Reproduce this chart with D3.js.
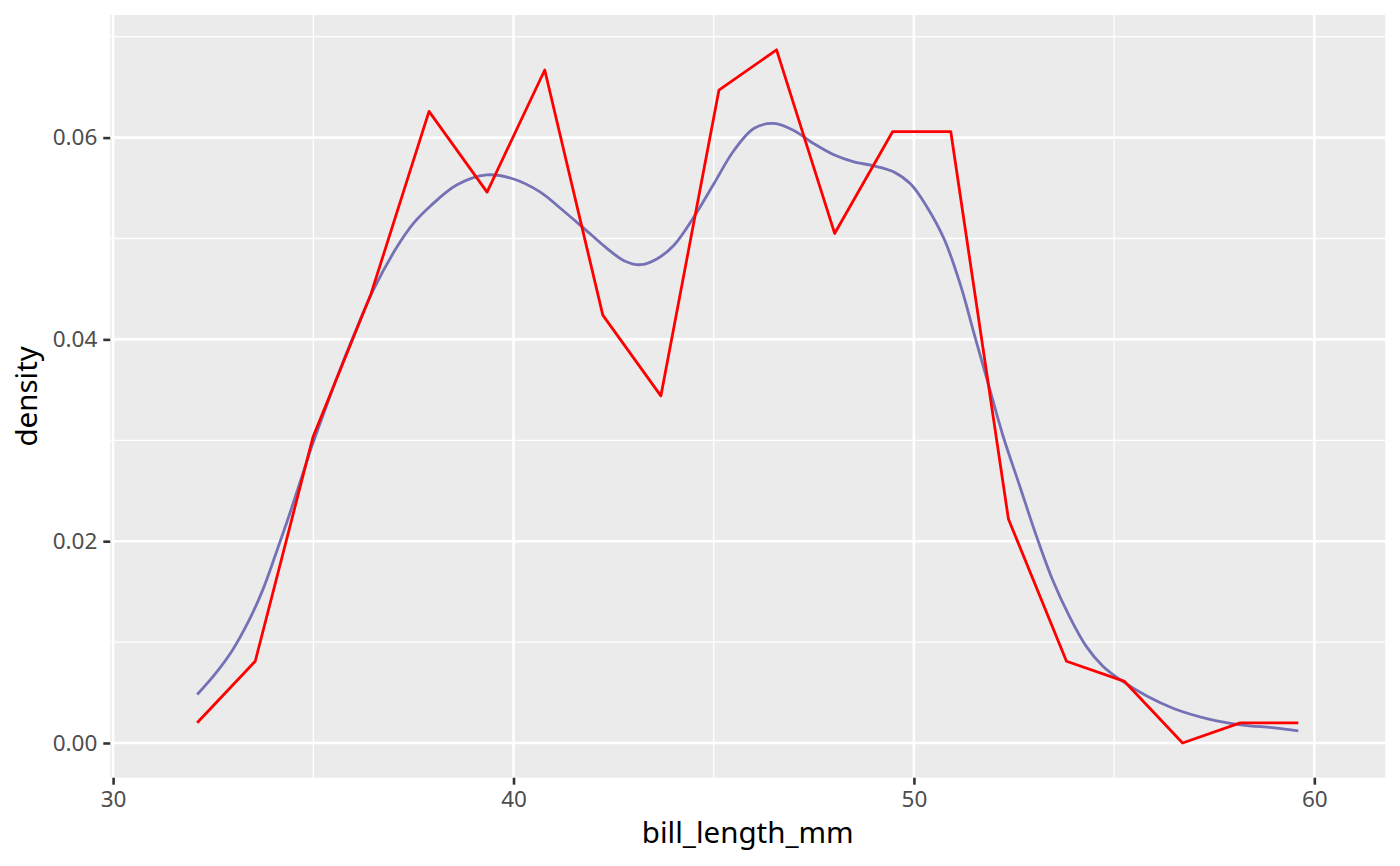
<!DOCTYPE html>
<html>
<head>
<meta charset="utf-8">
<script src="https://cdn.jsdelivr.net/npm/d3@7"></script>
<style>
  body{margin:0;background:#ffffff;}
  svg text{font-family:"Noto Sans","Open Sans",sans-serif;}
</style>
</head>
<body>
<div id="chart"></div>
<script>
// frequency polygon (bins=20), density
var binMids = [32.10, 33.55, 34.99, 36.44, 37.89, 39.34, 40.78, 42.23, 43.68, 45.13,
               46.57, 48.02, 49.47, 50.92, 52.36, 53.81, 55.26, 56.71, 58.15, 59.60];
var binDensity = [0.0020, 0.0081, 0.0303, 0.0445, 0.0626, 0.0546, 0.0667, 0.0424, 0.0344, 0.0647,
                  0.0687, 0.0505, 0.0606, 0.0606, 0.0222, 0.0081, 0.0061, 0.0000, 0.0020, 0.0020];

// kernel density curve
var kdeX = [32.10, 32.56, 32.98, 33.40, 33.73, 34.06, 34.40, 34.73, 34.98, 35.31,
            35.56, 36.00, 36.50, 37.08, 37.50, 37.92, 38.58, 39.33, 40.00, 40.67,
            41.17, 41.76, 42.34, 42.76, 43.17, 43.59, 44.00, 44.50, 45.00, 45.50,
            46.00, 46.50, 47.00, 47.50, 48.00, 48.50, 49.00, 49.50, 49.92, 50.33,
            50.76, 51.17, 51.50, 51.85, 52.22, 52.64, 53.06, 53.47, 53.89, 54.30,
            54.72, 55.14, 55.84, 56.50, 57.34, 58.17, 59.00, 59.60];
var kdeY = [0.0048, 0.0069, 0.0092, 0.0122, 0.0151, 0.0187, 0.0226, 0.0266, 0.0296, 0.0332,
            0.0359, 0.0403, 0.0449, 0.0491, 0.0515, 0.0532, 0.0553, 0.0563, 0.0559, 0.0546,
            0.0530, 0.0510, 0.0490, 0.0478, 0.0474, 0.0480, 0.0493, 0.0521, 0.0554, 0.0587,
            0.0609, 0.0614, 0.0607, 0.0594, 0.0583, 0.0576, 0.0572, 0.0566, 0.0554, 0.0531,
            0.0499, 0.0453, 0.0406, 0.0357, 0.0305, 0.0255, 0.0205, 0.0161, 0.0125, 0.0096,
            0.0076, 0.0063, 0.0046, 0.0034, 0.0024, 0.0018, 0.0015, 0.0012];

var xMajor = [30, 40, 50, 60];
var xMinor = [35, 45, 55];
var yMajor = [0, 0.02, 0.04, 0.06];
var yMinor = [0.01, 0.03, 0.05, 0.07];

var width = 1400, height = 866;
var xDomain = [29.93, 61.77], yDomain = [-0.00344, 0.07215];

var x = d3.scaleLinear().domain(xDomain).range([110.3, 1385.2]);
var y = d3.scaleLinear().domain(yDomain).range([777.7, 15]);

var svg = d3.select("#chart").append("svg").attr("width", width).attr("height", height);

//panel
svg.append("rect").attr("x", x.range()[0]).attr("y", y.range()[1])
   .attr("width", x.range()[1]-x.range()[0]).attr("height", y.range()[0]-y.range()[1])
   .attr("fill", "#EBEBEB");

var grid = svg.append("g");
grid.selectAll("line.ymin").data(yMinor).enter().append("line").classed("ymin", true)
    .attr("x1", x.range()[0]).attr("x2", x.range()[1])
    .attr("y1", function(d){return y(d)}).attr("y2", function(d){return y(d)})
    .attr("stroke", "#ffffff").attr("stroke-width", 1.3);
grid.selectAll("line.xmin").data(xMinor).enter().append("line").classed("xmin", true)
    .attr("y1", y.range()[0]).attr("y2", y.range()[1])
    .attr("x1", function(d){return x(d)}).attr("x2", function(d){return x(d)})
    .attr("stroke", "#ffffff").attr("stroke-width", 1.3);
grid.selectAll("line.ymaj").data(yMajor).enter().append("line").classed("ymaj", true)
    .attr("x1", x.range()[0]).attr("x2", x.range()[1])
    .attr("y1", function(d){return y(d)}).attr("y2", function(d){return y(d)})
    .attr("stroke", "#ffffff").attr("stroke-width", 2.6);
grid.selectAll("line.xmaj").data(xMajor).enter().append("line").classed("xmaj", true)
    .attr("y1", y.range()[0]).attr("y2", y.range()[1])
    .attr("x1", function(d){return x(d)}).attr("x2", function(d){return x(d)})
    .attr("stroke", "#ffffff").attr("stroke-width", 2.6);

//lines
var kde = kdeX.map(function(d,i){return [d, kdeY[i]]});
var poly = binMids.map(function(d,i){return [d, binDensity[i]]});

svg.append("path").datum(kde)
   .attr("d", d3.line().x(function(d){return x(d[0])}).y(function(d){return y(d[1])}).curve(d3.curveCatmullRom))
   .attr("fill", "none").attr("stroke", "#7471B5").attr("stroke-width", 2.8);

svg.append("path").datum(poly)
   .attr("d", d3.line().x(function(d){return x(d[0])}).y(function(d){return y(d[1])}))
   .attr("fill", "none").attr("stroke", "#FF0000").attr("stroke-width", 2.8)
   .attr("stroke-linejoin", "round");

//axes
var xAxis = svg.append("g").attr("transform", "translate(0," + y.range()[0] + ")")
   .call(d3.axisBottom(x).tickValues(xMajor).tickSize(7).tickPadding(6).tickFormat(d3.format("d")));
var yAxis = svg.append("g").attr("transform", "translate(" + x.range()[0] + ",0)")
   .call(d3.axisLeft(y).tickValues(yMajor).tickSize(7).tickPadding(6).tickFormat(d3.format(".2f")));

[xAxis, yAxis].forEach(function(a){
	a.select(".domain").remove();
	a.selectAll(".tick line").attr("stroke", "#333333").attr("stroke-width", 2.6);
	a.selectAll(".tick text").attr("fill", "#4D4D4D").style("font-size", "22.5px")
	 .style("font-family", "'Noto Sans','Open Sans',sans-serif");
});

svg.append("text").attr("x", (x.range()[0]+x.range()[1])/2).attr("y", 843)
   .attr("text-anchor", "middle").style("font-size", "29.5px").attr("fill", "#000000")
   .text("bill_length_mm");

svg.append("text").attr("transform", "translate(37," + ((y.range()[0]+y.range()[1])/2) + ") rotate(-90)")
   .attr("text-anchor", "middle").style("font-size", "29.5px").attr("fill", "#000000")
   .text("density");
</script>
</body>
</html>
